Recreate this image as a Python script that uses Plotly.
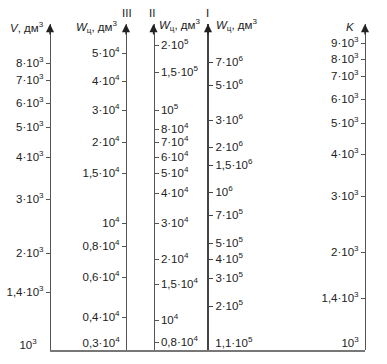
import plotly.graph_objects as go

# ---------------- data (scale graduations) ----------------
# ordinate = height of the graduation above the base line (nomogram units)
V_TEXT = ["1,4·10<sup>3</sup>", "2·10<sup>3</sup>", "3·10<sup>3</sup>", "4·10<sup>3</sup>",
          "5·10<sup>3</sup>", "6·10<sup>3</sup>", "7·10<sup>3</sup>", "8·10<sup>3</sup>"]
V_ORD = [58, 97, 151, 193, 223, 247, 270, 287]
V_END_TEXT = ["10<sup>3</sup>"]
V_END_ORD = [1]

III_TEXT = ["0,4·10<sup>4</sup>", "0,6·10<sup>4</sup>", "0,8·10<sup>4</sup>", "10<sup>4</sup>",
            "1,5·10<sup>4</sup>", "2·10<sup>4</sup>", "3·10<sup>4</sup>", "4·10<sup>4</sup>",
            "5·10<sup>4</sup>"]
III_ORD = [33, 73, 104, 127, 177, 208, 240, 269, 297]
III_END_TEXT = ["0,3·10<sup>4</sup>"]
III_END_ORD = [7]

II_TEXT = ["0,8·10<sup>4</sup>", "10<sup>4</sup>", "1,5·10<sup>4</sup>", "2·10<sup>4</sup>",
           "3·10<sup>4</sup>", "4·10<sup>4</sup>", "5·10<sup>4</sup>", "6·10<sup>4</sup>",
           "7·10<sup>4</sup>", "8·10<sup>4</sup>", "10<sup>5</sup>", "1,5·10<sup>5</sup>",
           "2·10<sup>5</sup>"]
II_ORD = [8, 30, 66, 91, 127, 157, 177, 193, 208, 221, 240, 278, 305]
II_END_TEXT = []
II_END_ORD = []

I_TEXT = ["2·10<sup>5</sup>", "3·10<sup>5</sup>", "4·10<sup>5</sup>", "5·10<sup>5</sup>",
          "7·10<sup>5</sup>", "10<sup>6</sup>", "1,5·10<sup>6</sup>", "2·10<sup>6</sup>",
          "3·10<sup>6</sup>", "5·10<sup>6</sup>", "7·10<sup>6</sup>"]
I_ORD = [44, 72, 91, 107, 135, 158, 185, 203, 230, 265, 288]
I_END_TEXT = ["1,1·10<sup>5</sup>"]
I_END_ORD = [7]

K_TEXT = ["1,4·10<sup>3</sup>", "2·10<sup>3</sup>", "3·10<sup>3</sup>", "4·10<sup>3</sup>",
          "5·10<sup>3</sup>", "6·10<sup>3</sup>", "7·10<sup>3</sup>", "8·10<sup>3</sup>",
          "9·10<sup>3</sup>"]
K_ORD = [52, 98, 154, 196, 227, 251, 274, 291, 307]
K_END_TEXT = ["10<sup>3</sup>"]
K_END_ORD = [7]

TITLE_W = "<i>W</i><sub>ц</sub>, дм<sup>3</sup>"

# ---------------- layout helpers ----------------
W, H = 387, 364
Y_BASE, Y_TIP = 350, 24
FONT = "Liberation Sans, Arial, sans-serif"
TXT = "#222222"


def fx(x):
    return x / W


def fy(y):
    return 1 - y / H


Y_DOMAIN = [fy(Y_BASE), fy(Y_TIP)]
Y_RANGE = [0, Y_BASE - Y_TIP]

scales = [
    # x position, side, line width, line colour, ticked, unticked, extra standoff/shift for unticked
    dict(x=50, side="left", lw=1.2, lc="#555555", t=V_TEXT, o=V_ORD,
         et=V_END_TEXT, eo=V_END_ORD, es=7, esh=-4),
    dict(x=126, side="left", lw=1.2, lc="#555555", t=III_TEXT, o=III_ORD,
         et=III_END_TEXT, eo=III_END_ORD, es=0, esh=0),
    dict(x=153.5, side="right", lw=1.2, lc="#555555", t=II_TEXT, o=II_ORD,
         et=II_END_TEXT, eo=II_END_ORD, es=0, esh=0),
    dict(x=208, side="right", lw=2.2, lc="#444444", t=I_TEXT, o=I_ORD,
         et=I_END_TEXT, eo=I_END_ORD, es=0, esh=0),
    dict(x=365, side="left", lw=1.2, lc="#555555", t=K_TEXT, o=K_ORD,
         et=K_END_TEXT, eo=K_END_ORD, es=0, esh=0),
]

fig = go.Figure()
layout_axes = {}
annotations = []
n = 0


def add_axis(cfg, vals, texts, ticked, standoff, shift):
    global n
    n += 1
    name = "y" if n == 1 else f"y{n}"
    key = "yaxis" if n == 1 else f"yaxis{n}"
    ax = dict(
        domain=Y_DOMAIN, range=Y_RANGE, anchor="free", position=fx(cfg["x"]),
        side=cfg["side"], showgrid=False, zeroline=False,
        showline=ticked, linecolor=cfg["lc"], linewidth=cfg["lw"],
        ticks="outside", ticklen=4, tickwidth=1,
        tickcolor=cfg["lc"] if ticked else "rgba(0,0,0,0)",
        tickmode="array", tickvals=vals, ticktext=texts,
        tickfont=dict(family=FONT, size=11.5, color=TXT),
        ticklabelstandoff=standoff, ticklabelshift=shift, fixedrange=True,
    )
    if n > 1:
        ax["overlaying"] = "y"
    layout_axes[key] = ax
    fig.add_trace(go.Scatter(x=[None], y=[None], xaxis="x", yaxis=name,
                             showlegend=False, hoverinfo="skip"))


for cfg in scales:
    add_axis(cfg, cfg["o"], cfg["t"], True, 0, 0)
    if cfg["et"]:
        add_axis(cfg, cfg["eo"], cfg["et"], False, cfg["es"], cfg["esh"])
    # arrow head on top of each scale
    annotations.append(dict(
        x=fx(cfg["x"]), y=fy(Y_TIP), xref="paper", yref="paper", text="",
        showarrow=True, arrowhead=2, arrowsize=1.25, arrowwidth=1.3,
        arrowcolor="#222222", ax=0, ay=12, standoff=0,
    ))

# scale titles and numerals
def label(text, x, y, xanchor="center", size=11.5):
    annotations.append(dict(
        x=fx(x), y=fy(y), xref="paper", yref="paper", text=text, showarrow=False,
        xanchor=xanchor, yanchor="middle",
        font=dict(family=FONT, size=size, color=TXT),
    ))


label("<i>V</i>, дм<sup>3</sup>", 46, 27, "right")
label(TITLE_W, 119, 27, "right")
label(TITLE_W, 157, 25, "left")
label(TITLE_W, 214, 25, "left")
label("<i>K</i>", 357, 27, "right")
label("III", 127, 13)
label("II", 152, 13)
label("I", 207.5, 13)

fig.update_layout(
    width=W, height=H, margin=dict(l=0, r=0, t=0, b=0),
    paper_bgcolor="white", plot_bgcolor="white",
    xaxis=dict(domain=[fx(50), fx(365)], range=[0, 1], anchor="y",
               showline=True, linecolor="#777777", linewidth=1.5,
               showticklabels=False, ticks="", showgrid=False, zeroline=False,
               fixedrange=True),
    annotations=annotations,
    showlegend=False,
    **layout_axes,
)

fig.write_html("out.html", config={"displayModeBar": False})
